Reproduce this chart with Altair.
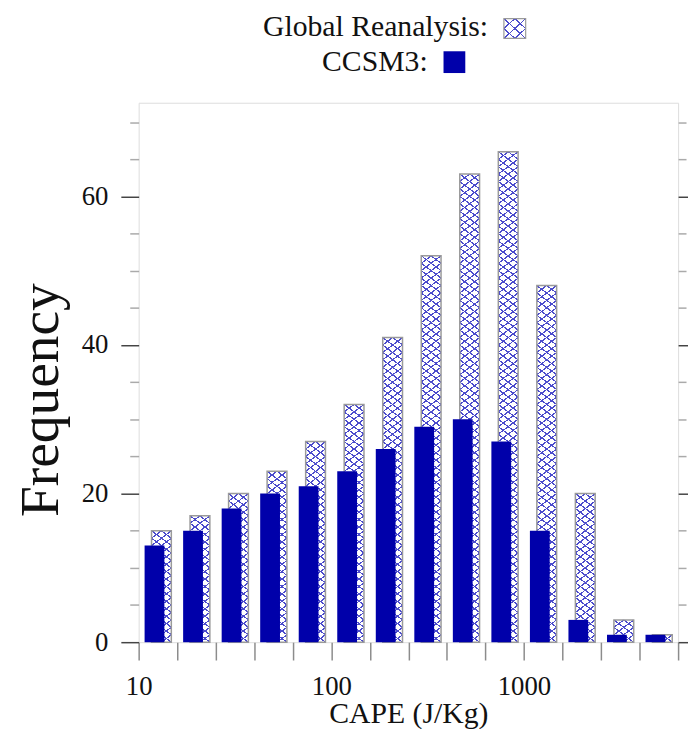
import math
import altair as alt
import pandas as pd

# ---- data ----
edges = [10, 15.85, 25.12, 39.81, 63.1, 100, 158.5, 251.2, 398.1, 631, 1000, 1585, 2512, 3981, 6310]
reanalysis = [15, 17, 20, 23, 27, 32, 41, 52, 63, 66, 48, 20, 3, 1]
ccsm3 = [13, 15, 18, 20, 21, 23, 26, 29, 30, 27, 15, 3, 1, 1]
series = ["Global Reanalysis", "CCSM3"]
x_label_values = [10, 100, 1000]
y_tick_values = [0, 5, 10, 15, 20, 25, 30, 35, 40, 45, 50, 55, 60, 65, 70]
y_label_step = 20
y_max = 72.6

# ---- style ----
W = H = 545
SOLID = "#0000aa"
HATCH = "#4b4bcc"
CLEAR = "rgba(75,75,204,0)"
FRAME = "#7a7a7a"
BORDER = "#9a9a9a"
TXT = "#111111"
FONT = "Liberation Serif"
BAR_W = 20


def hatch(kx, ky, w, h, flip, lw=1.2):
    n = kx + ky
    s = n / (kx * kx + ky * ky)
    if flip:
        x1, y1, x2, y2 = 0, 1, kx * s, 1 - ky * s
    else:
        x1, y1, x2, y2 = 0, 0, kx * s, ky * s
    d = 1 / math.sqrt((kx / w) ** 2 + (ky / h) ** 2)
    half = lw / (2 * d * n)
    stops = []
    for i in range(n + 1):
        c = i / n
        a = max(0.0, c - half)
        b = min(1.0, c + half)
        stops += [
            {"offset": a, "color": CLEAR},
            {"offset": a, "color": HATCH},
            {"offset": b, "color": HATCH},
            {"offset": b, "color": CLEAR},
        ]
    return {"gradient": "linear", "x1": x1, "y1": y1, "x2": x2, "y2": y2, "stops": stops}


bars = pd.DataFrame({"lo": edges[:-1], "rean": reanalysis, "ccsm": ccsm3})
cells = pd.DataFrame(
    [{"lo": lo, "k": k, "k1": k + 1} for lo, v in zip(edges[:-1], reanalysis) for k in range(v)]
)

xscale = alt.Scale(type="log", domain=[edges[0], edges[-1]], nice=False)
yscale = alt.Scale(domain=[0, y_max], nice=False, zero=True)

label_test = " || ".join(f"datum.value == {v}" for v in x_label_values)
xaxis = alt.Axis(
    values=edges, format="d", labelExpr=f"({label_test}) ? datum.label : ''",
    tickSize=18, tickColor="#8c8c8c", tickWidth=1.5, domain=False, grid=False,
    labelFont=FONT, labelFontSize=27, labelPadding=14, labelColor=TXT,
    labelOverlap=False, labelFlush=False,
    title="CAPE (J/Kg)", titleFont=FONT, titleFontSize=30, titleFontWeight="normal",
    titleColor=TXT, titleY=81, titleBaseline="alphabetic",
)
major = f"datum.value % {y_label_step} == 0"
yaxis = alt.Axis(
    orient="left", values=y_tick_values, labelExpr=f"{major} ? datum.label : ''",
    tickSize={"condition": {"test": major, "value": 18}, "value": 9},
    tickColor={"condition": {"test": major, "value": "#444444"}, "value": "#aaaaaa"},
    tickWidth=1.5, domain=False, grid=False,
    labelFont=FONT, labelFontSize=27, labelPadding=13, labelColor=TXT, labelOverlap=False,
    title="Frequency", titleFont=FONT, titleFontSize=56, titleFontWeight="normal",
    titleColor=TXT, titleAngle=270, titleX=-82, titleY=300, titleAlign="center",
    titleBaseline="alphabetic",
)
raxis = alt.Axis(
    orient="right", values=y_tick_values, labels=False,
    tickSize={"condition": {"test": major, "value": 11}, "value": 8},
    tickColor={"condition": {"test": major, "value": "#444444"}, "value": "#aaaaaa"},
    tickWidth=1.5, domain=False, grid=False, title=None,
)

cell_h = H / y_max
HAT_OFF = dict(xOffset=13, x2Offset=33)
X = alt.X("lo:Q", scale=xscale, axis=xaxis)

# hatched bars: white background (carries the left y axis)
hat_bg = alt.Chart(bars).mark_rect(fill="white", **HAT_OFF).encode(
    x=X, x2="lo:Q",
    y=alt.Y("rean:Q", scale=yscale, axis=yaxis),
    y2=alt.datum(0),
)
hat_a = alt.Chart(cells).mark_rect(fill=hatch(2, 1, BAR_W, cell_h, False), **HAT_OFF).encode(
    x=X, x2="lo:Q",
    y=alt.Y("k:Q", scale=yscale, axis=None), y2="k1:Q",
)
hat_b = alt.Chart(cells).mark_rect(fill=hatch(2, 1, BAR_W, cell_h, True), **HAT_OFF).encode(
    x=X, x2="lo:Q",
    y=alt.Y("k:Q", scale=yscale, axis=None), y2="k1:Q",
)
hat_border = alt.Chart(bars).mark_rect(
    fill="transparent", stroke=BORDER, strokeWidth=1.5, **HAT_OFF
).encode(
    x=X, x2="lo:Q",
    y=alt.Y("rean:Q", scale=yscale, axis=None), y2=alt.datum(0),
)
solid = alt.Chart(bars).mark_rect(fill=SOLID, xOffset=6, x2Offset=26).encode(
    x=X, x2="lo:Q",
    y=alt.Y("ccsm:Q", scale=yscale, axis=None), y2=alt.datum(0),
)
# invisible layer that carries the mirrored tick marks on the right
right = alt.Chart(bars).mark_point(opacity=0).encode(
    x=X,
    y=alt.Y("rean:Q", scale=yscale, axis=raxis),
)

# ---- legend (two centred rows above the plot) ----
leg1 = pd.DataFrame({"label": [series[0] + ":"]})
leg2 = pd.DataFrame({"label": [series[1] + ":"]})
legtxt = dict(align="right", baseline="alphabetic", font=FONT, fontSize=30, color=TXT)
t1 = alt.Chart(leg1).mark_text(**legtxt).encode(x=alt.value(353), y=alt.value(-67), text="label:N")
t2 = alt.Chart(leg2).mark_text(**legtxt).encode(x=alt.value(292), y=alt.value(-32), text="label:N")
sq1_pos = dict(x=alt.value(369), x2=alt.value(391), y=alt.value(-85), y2=alt.value(-65))
s1_bg = alt.Chart(leg1).mark_rect(fill="white").encode(**sq1_pos)
s1_a = alt.Chart(leg1).mark_rect(fill=hatch(2, 2, 22, 20, False)).encode(**sq1_pos)
s1_b = alt.Chart(leg1).mark_rect(fill=hatch(2, 2, 22, 20, True)).encode(**sq1_pos)
s1_bd = alt.Chart(leg1).mark_rect(fill="transparent", stroke=BORDER, strokeWidth=1.2).encode(**sq1_pos)
s2 = alt.Chart(leg2).mark_rect(fill=SOLID).encode(
    x=alt.value(308), x2=alt.value(330), y=alt.value(-52), y2=alt.value(-30)
)

chart = (
    alt.layer(hat_bg, hat_a, hat_b, hat_border, solid, right,
              t1, t2, s1_bg, s1_a, s1_b, s1_bd, s2)
    .resolve_axis(y="independent")
    .properties(
        width=W, height=H,
        autosize=alt.AutoSizeParams(type="none"),
        padding={"left": 132, "top": 92, "right": 10, "bottom": 84},
    )
    .configure_view(stroke=FRAME, strokeWidth=2)
    .configure(font=FONT, background="white")
)

chart.save("out.html", embed_options={"renderer": "svg", "actions": False})
